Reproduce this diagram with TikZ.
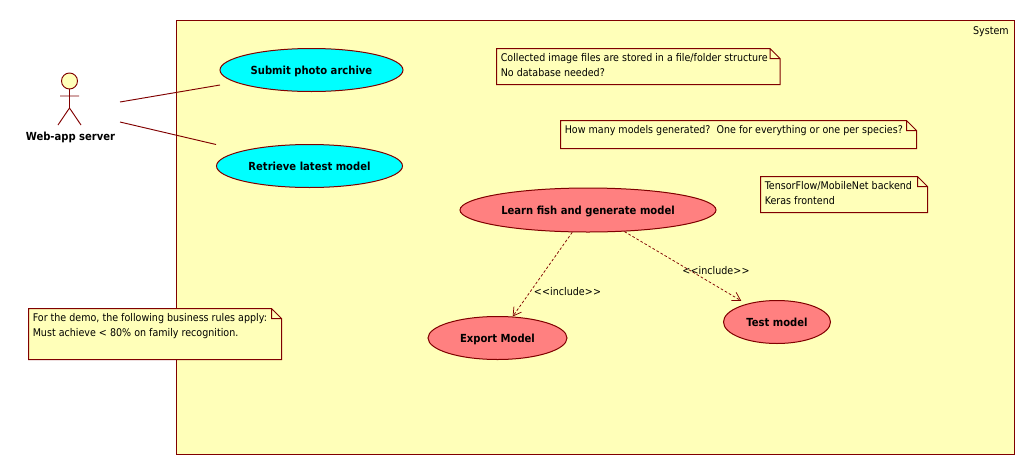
\documentclass[tikz,border=0pt]{standalone}
\usepackage{fontspec}
\setmainfont[FakeStretch=0.9]{DejaVu Sans}
\usetikzlibrary{arrows.meta,shapes.geometric}

\definecolor{umlline}{HTML}{800000}
\definecolor{umlpaper}{HTML}{FFFFB9}
\definecolor{umlcyan}{HTML}{00FFFF}
\definecolor{umlred}{HTML}{FF8080}

\tikzset{
    umltext/.style={inner sep=0.75pt,font=\fontsize{7.95}{11.25}\selectfont},
    umlbold/.style={font=\fontsize{8.35}{11.25}\selectfont\bfseries},
    notetext/.style={umltext,anchor=north west,align=left},
    notepoly/.style={draw=umlline,fill=umlpaper,line width=0.75pt},
    usecase/.style={ellipse,draw=umlline,line width=0.75pt,inner sep=0pt,umlbold,text height=8pt,text depth=1.7pt},
    assoc/.style={draw=umlline,line width=0.7pt},
    incl/.style={draw=umlline,line width=0.55pt,dashed,dash pattern=on 2pt off 1.5pt,-{Straight Barb[length=6pt,width=7pt]}},
}

\newcommand{\noteshape}[4]{%
    \draw[notepoly] (#1,#2) -- (#3-10,#2) -- (#3,#2+10) -- (#3,#4) -- (#1,#4) -- cycle
        (#3-10,#2) -- (#3-10,#2+10) -- (#3,#2+10);
}

\begin{document}
\begin{tikzpicture}[x=0.75pt,y=0.75pt,yscale=-1,xscale=1]
    \useasboundingbox (0,0) rectangle (1035,475);

    %System boundary
    \draw [draw=umlline,fill=umlpaper,line width=0.75pt] (176.5,20.5) rectangle (1014.5,454.5);
    \node [umltext,anchor=north east] (system) at (1010,25) {System};

    %Actor
    \draw [draw=umlline,fill=umlpaper,line width=0.7pt] (69.5,81) circle [radius=8];
    \draw [draw=umlline,line width=0.7pt] (69.5,89) -- (69.5,108) (60,96) -- (79,96) (58,125) -- (69.5,108) -- (81,125);
    \node [umltext,umlbold] (server) at (70.5,137) {Web-app server};
    \coordinate (serverup) at (120,102);
    \coordinate (serverdown) at (120,122);

    %Use cases
    \node [usecase,fill=umlcyan,minimum width=183*0.75pt,minimum height=43*0.75pt] (submit) at (311.5,70) {Submit photo archive};
    \node [usecase,fill=umlcyan,minimum width=186*0.75pt,minimum height=43*0.75pt] (retrieve) at (309.5,166) {Retrieve latest model};
    \node [usecase,fill=umlred,minimum width=256*0.75pt,minimum height=44*0.75pt] (learn) at (588,210) {Learn fish and generate model};
    \node [usecase,fill=umlred,minimum width=139*0.75pt,minimum height=43*0.75pt] (export) at (497.5,338) {Export Model};
    \node [usecase,fill=umlred,minimum width=107*0.75pt,minimum height=43*0.75pt] (test) at (777,322) {Test model};
    \coordinate (submitend) at (220,85);
    \coordinate (retrieveend) at (216,144.5);

    %Connectors
    \draw [assoc] (serverup) -- (submitend);
    \draw [assoc] (serverdown) -- (retrieveend);
    \draw [incl] (learn) -- (export);
    \draw [incl,shorten >=4.5pt] (learn) -- (test);
    \node [umltext] (inclexport) at (567.5,292) {<\kern0.2pt<include>\kern0.2pt>};
    \node [umltext] (incltest) at (716,271) {<\kern0.2pt<include>\kern0.2pt>};

    %Notes
    \noteshape{496.5}{48.5}{780}{84.5}
    \node [notetext] (noteimages) at (499.5,52.5) {Collected image files are stored in a file/folder structure\\No database needed?};
    \noteshape{560.5}{120.5}{916.5}{148.5}
    \node [notetext] (notemodels) at (563.5,124.5) {How many models generated?\ \ One for everything or one per species?};
    \noteshape{760.5}{176.5}{927.5}{212.5}
    \node [notetext] (notebackend) at (763.5,180.5) {TensorFlow/MobileNet backend\\Keras frontend};
    \noteshape{28.5}{308.5}{281.5}{359.5}
    \node [notetext] (noterules) at (31.5,312.5) {For the demo, the following business rules apply:\\Must achieve < 80\% on family recognition.};
\end{tikzpicture}
\end{document}
